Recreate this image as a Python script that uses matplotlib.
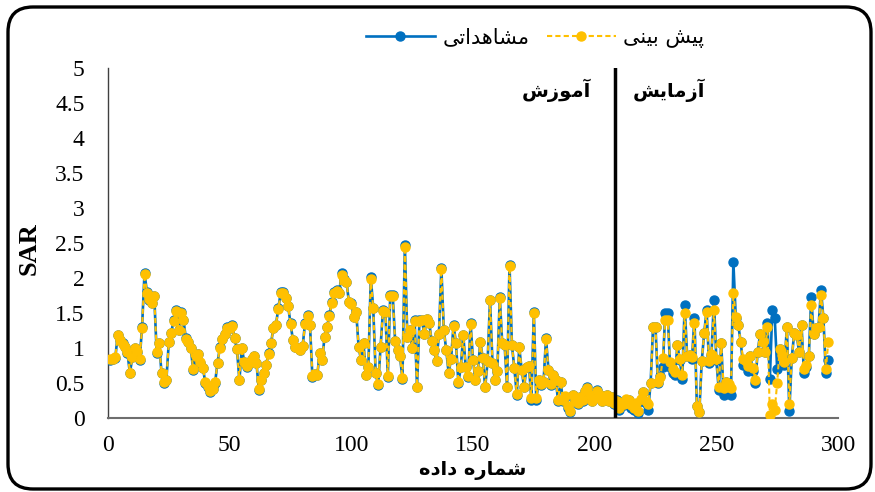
import matplotlib
matplotlib.use("Agg")
import matplotlib.pyplot as plt
from matplotlib.patches import FancyBboxPatch
from matplotlib.ticker import FuncFormatter, MultipleLocator

# ---------------- data ----------------
obs_train = [
    0.83, 0.85, 0.86, 1.19, 1.12, 1.07, 1.02, 0.93, 0.64, 0.87,
    1.00, 0.95, 0.83, 1.30, 2.07, 1.80, 1.69, 1.65, 1.75, 0.93,
    1.07, 0.64, 0.50, 0.55, 1.09, 1.22, 1.40, 1.54, 1.26, 1.51,
    1.40, 1.14, 1.08, 1.00, 0.69, 0.88, 0.92, 0.79, 0.72, 0.50,
    0.45, 0.37, 0.42, 0.50, 0.79, 1.01, 1.13, 1.20, 1.30, 1.28,
    1.33, 1.14, 0.98, 0.54, 1.00, 0.80, 0.73, 0.78, 0.85, 0.89,
    0.79, 0.40, 0.54, 0.64, 0.76, 0.93, 1.07, 1.29, 1.33, 1.57,
    1.80, 1.80, 1.72, 1.60, 1.36, 1.11, 1.02, 1.00, 0.97, 1.03,
    1.36, 1.47, 1.33, 0.59, 0.63, 0.61, 0.93, 0.83, 1.16, 1.30,
    1.47, 1.66, 1.80, 1.83, 1.78, 2.07, 1.98, 1.95, 1.66, 1.64,
    1.45, 1.52, 1.01, 0.83, 1.07, 0.61, 0.73, 2.01, 1.57, 0.64,
    0.47, 1.01, 1.54, 1.52, 0.59, 1.76, 1.76, 1.10, 0.97, 0.88,
    0.56, 2.47, 1.16, 1.26, 1.00, 1.40, 0.44, 1.40, 1.40, 1.20,
    1.42, 1.36, 1.10, 0.97, 0.81, 1.20, 2.14, 1.26, 0.97, 0.64,
    0.85, 1.33, 1.07, 0.50, 0.73, 1.19, 0.73, 0.59, 1.36, 0.83,
    0.54, 0.67, 1.09, 0.86, 0.44, 0.81, 1.69, 0.79, 0.54, 0.67,
    1.73, 1.07, 1.04, 0.44, 2.19, 1.04, 0.71, 0.33, 1.01, 0.69,
    0.44, 0.73, 0.74, 0.26, 1.51, 0.26, 0.54, 0.47, 0.52, 1.14,
    0.69, 0.47, 0.61, 0.55, 0.24, 0.52, 0.24, 0.30, 0.15, 0.09,
    0.33, 0.24, 0.20, 0.30, 0.25, 0.38, 0.44, 0.33, 0.24, 0.28,
    0.40, 0.33, 0.24, 0.30, 0.33, 0.24, 0.30, 0.20,
]
pred_train = [
    0.84, 0.85, 0.87, 1.18, 1.12, 1.06, 1.02, 0.94, 0.65, 0.87,
    1.00, 0.96, 0.84, 1.29, 2.06, 1.79, 1.70, 1.64, 1.74, 0.94,
    1.07, 0.65, 0.51, 0.55, 1.08, 1.22, 1.39, 1.53, 1.26, 1.50,
    1.40, 1.13, 1.08, 1.00, 0.70, 0.88, 0.91, 0.80, 0.72, 0.51,
    0.46, 0.38, 0.42, 0.51, 0.79, 1.00, 1.13, 1.20, 1.29, 1.28,
    1.32, 1.14, 0.98, 0.55, 1.00, 0.80, 0.74, 0.78, 0.85, 0.88,
    0.79, 0.41, 0.55, 0.64, 0.76, 0.92, 1.07, 1.28, 1.33, 1.56,
    1.79, 1.79, 1.72, 1.60, 1.35, 1.11, 1.02, 1.00, 0.97, 1.03,
    1.35, 1.46, 1.33, 0.60, 0.63, 0.62, 0.93, 0.83, 1.16, 1.30,
    1.46, 1.65, 1.79, 1.82, 1.78, 2.05, 1.97, 1.94, 1.66, 1.63,
    1.45, 1.51, 1.01, 0.83, 1.07, 0.62, 0.73, 1.99, 1.57, 0.65,
    0.48, 1.01, 1.53, 1.51, 0.60, 1.75, 1.75, 1.10, 0.97, 0.88,
    0.57, 2.45, 1.16, 1.26, 1.00, 1.39, 0.45, 1.39, 1.40, 1.20,
    1.41, 1.36, 1.10, 0.97, 0.81, 1.20, 2.13, 1.26, 0.97, 0.65,
    0.85, 1.32, 1.07, 0.51, 0.73, 1.19, 0.73, 0.60, 1.35, 0.83,
    0.55, 0.67, 1.09, 0.86, 0.45, 0.81, 1.68, 0.79, 0.55, 0.67,
    1.72, 1.07, 1.04, 0.45, 2.17, 1.04, 0.71, 0.34, 1.01, 0.69,
    0.45, 0.73, 0.74, 0.28, 1.50, 0.28, 0.54, 0.48, 0.52, 1.13,
    0.69, 0.48, 0.61, 0.55, 0.26, 0.52, 0.26, 0.31, 0.17, 0.10,
    0.33, 0.25, 0.21, 0.30, 0.26, 0.38, 0.43, 0.33, 0.25, 0.28,
    0.39, 0.33, 0.25, 0.30, 0.33, 0.25, 0.30, 0.21,
]
obs_test = [
    0.26, 0.12, 0.22, 0.18, 0.26, 0.26, 0.15, 0.12, 0.20, 0.07,
    0.25, 0.37, 0.22, 0.12, 0.50, 1.30, 1.30, 0.50, 0.60, 0.73,
    1.50, 1.50, 0.73, 0.64, 0.61, 1.04, 0.83, 0.56, 1.61, 0.88,
    0.90, 0.85, 1.43, 0.17, 0.08, 0.81, 1.21, 1.54, 0.79, 0.90,
    1.69, 0.83, 0.40, 1.07, 0.33, 0.52, 0.45, 0.33, 2.23, 1.43,
    1.33, 1.09, 0.76, 0.79, 0.67, 0.88, 0.67, 0.50, 0.95, 1.20,
    1.09, 0.95, 1.36, 0.56, 1.54, 1.43, 0.70, 0.98, 0.90, 0.76,
    1.30, 0.10, 0.86, 1.21, 1.19, 0.95, 1.33, 0.65, 0.73, 0.88,
    1.73, 1.20, 1.29, 1.30, 1.83, 1.43, 0.65, 0.83,
]
pred_test = [
    0.24, 0.15, 0.22, 0.20, 0.27, 0.26, 0.18, 0.14, 0.22, 0.10,
    0.27, 0.37, 0.25, 0.20, 0.50, 1.30, 1.30, 0.52, 0.58, 0.86,
    1.40, 1.40, 0.80, 0.70, 0.66, 1.04, 0.85, 0.62, 1.50, 0.88,
    0.90, 0.87, 1.36, 0.17, 0.08, 0.81, 1.21, 1.52, 0.82, 0.92,
    1.54, 0.85, 0.45, 1.07, 0.43, 0.52, 0.48, 0.43, 1.79, 1.45,
    1.33, 1.09, 0.85, 0.82, 0.75, 0.88, 0.72, 0.55, 0.95, 1.20,
    1.09, 0.95, 1.30, 0.05, 0.20, 0.12, 0.50, 0.98, 0.90, 0.80,
    1.30, 0.20, 0.86, 1.21, 1.19, 0.95, 1.33, 0.70, 0.76, 0.88,
    1.62, 1.20, 1.29, 1.30, 1.76, 1.43, 0.70, 1.08,
]
observed = obs_train + obs_test
predicted = pred_train + pred_test
x_index = list(range(1, len(observed) + 1))
split_at = len(obs_train) + 0.5

obs_label = "مشاهداتی"
pred_label = "پیش بینی"
train_label = "آموزش"
test_label = "آزمایش"
x_title = "شماره داده"
y_title = "SAR"
x_ticks = [0, 50, 100, 150, 200, 250, 300]

# ---- minimal Persian shaping (contextual forms + visual order) ----
FORMS = {
    '\u0627': ('\uFE8D', '\uFE8E', None, None),
    '\u0622': ('\uFE81', '\uFE82', None, None),
    '\u062F': ('\uFEA9', '\uFEAA', None, None),
    '\u0631': ('\uFEAD', '\uFEAE', None, None),
    '\u0632': ('\uFEAF', '\uFEB0', None, None),
    '\u0648': ('\uFEED', '\uFEEE', None, None),
    '\u0645': ('\uFEE1', '\uFEE2', '\uFEE3', '\uFEE4'),
    '\u0634': ('\uFEB5', '\uFEB6', '\uFEB7', '\uFEB8'),
    '\u0647': ('\uFEE9', '\uFEEA', '\uFEEB', '\uFEEC'),
    '\u062A': ('\uFE95', '\uFE96', '\uFE97', '\uFE98'),
    '\u0628': ('\uFE8F', '\uFE90', '\uFE91', '\uFE92'),
    '\u0646': ('\uFEE5', '\uFEE6', '\uFEE7', '\uFEE8'),
    '\u067E': ('\uFB56', '\uFB57', '\uFB58', '\uFB59'),
    '\u06CC': ('\uFBFC', '\uFBFD', '\uFBFE', '\uFBFF'),
}


def shape(s):
    s = s.replace('\u064A', '\u06CC')
    out = []
    for i, c in enumerate(s):
        if c not in FORMS:
            out.append(c)
            continue
        iso, fin, ini, med = FORMS[c]
        prev = s[i - 1] if i > 0 else None
        nxt = s[i + 1] if i + 1 < len(s) else None
        jp = prev in FORMS and FORMS[prev][2] is not None
        jn = ini is not None and nxt in FORMS
        if jp and jn:
            f = med
        elif jp:
            f = fin
        elif jn:
            f = ini
        else:
            f = iso
        out.append(f)
    return ''.join(reversed(out))


FA = ['DejaVu Sans']
SERIF = ['Liberation Serif', 'DejaVu Serif']

BLUE = '#0070C0'
YELLOW = '#FFC000'

fig = plt.figure(figsize=(8.75, 4.92), dpi=100)
ax = fig.add_axes([108 / 875, 1 - 418 / 492, 730 / 875, 350 / 492])

l_obs, = ax.plot(x_index, observed, color=BLUE, lw=1.9, marker='o', ms=6.5,
                 mfc=BLUE, mec=BLUE, zorder=3, label=shape(obs_label))
l_pred, = ax.plot(x_index, predicted, color=YELLOW, lw=1.5, ls=(0, (2.5, 1.5)),
                  marker='o', ms=6.5, mfc=YELLOW, mec=YELLOW, zorder=4,
                  label=shape(pred_label))

ax.axvline(split_at, color='black', lw=2.5, zorder=5)

ax.set_xlim(0, 300)
ax.set_ylim(0, 5)
ax.set_xticks(x_ticks)
ax.yaxis.set_major_locator(MultipleLocator(0.5))
ax.yaxis.set_major_formatter(FuncFormatter(lambda v, p: ('%g' % v)))
ax.tick_params(axis='both', length=0, labelsize=17)
ax.tick_params(axis='y', pad=17)
ax.tick_params(axis='x', pad=12)
for lab in ax.get_xticklabels() + ax.get_yticklabels():
    lab.set_family(SERIF)

for side in ('top', 'right'):
    ax.spines[side].set_visible(False)
ax.spines['left'].set_color('#404040')
ax.spines['left'].set_linewidth(1.0)
ax.spines['bottom'].set_color('#6e6e6e')
ax.spines['bottom'].set_linewidth(1.5)

fig.text(29 / 875, 1 - 249 / 492, y_title, family=SERIF, fontsize=19,
         fontweight='bold', rotation=90, ha='center', va='center')
ax.set_xlabel(shape(x_title), family=FA, fontsize=14, fontweight='bold', labelpad=4)

ax.text(split_at - 10, 4.68, shape(train_label), family=FA, fontsize=14,
        fontweight='bold', ha='right', va='center')
ax.text(split_at + 7, 4.68, shape(test_label), family=FA, fontsize=14,
        fontweight='bold', ha='left', va='center')

leg = fig.legend(handles=[l_obs, l_pred], loc='center', ncol=2, frameon=False,
                 bbox_to_anchor=(535 / 875, 1 - 38 / 492), handlelength=3.3,
                 handletextpad=0.35, columnspacing=0.85,
                 prop={'family': FA, 'size': 15})

border = FancyBboxPatch((0.08, 0.03), 8.63, 4.82,
                        boxstyle='round,pad=0,rounding_size=0.25',
                        transform=fig.dpi_scale_trans, fill=False,
                        edgecolor='black', lw=2.4, zorder=10)
fig.patches.append(border)

fig.savefig('out.png', dpi=100)
